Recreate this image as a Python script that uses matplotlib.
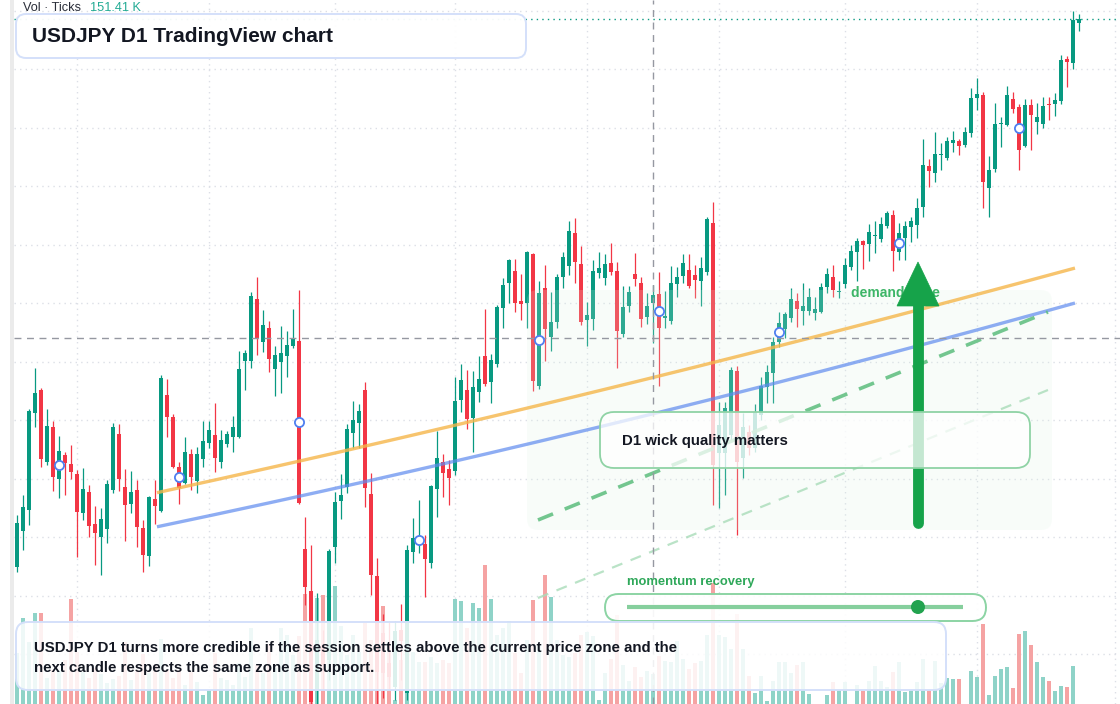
import numpy as np
import matplotlib
matplotlib.use("Agg")
import matplotlib.pyplot as plt
from matplotlib.patches import FancyBboxPatch, Polygon, Circle, Rectangle

plt.rcParams['font.family'] = ['Liberation Sans', 'DejaVu Sans']

# ---------------- data (USDJPY D1) ----------------
opens = [154.33,154.69,154.90,155.87,156.10,155.38,155.73,155.21,155.45,155.36,
         155.26,154.87,155.08,154.76,154.63,154.71,155.10,155.66,155.13,154.96,
         155.10,154.72,154.44,155.01,154.89,156.05,155.83,155.33,155.17,155.46,
         155.19,155.41,155.57,155.65,155.38,155.56,155.63,155.63,156.39,156.39,
         157.01,156.58,156.72,156.31,156.38,156.44,156.54,156.59,154.51,154.09,
         153.10,153.55,153.40,154.53,154.99,155.13,155.67,155.77,156.10,155.06,
         154.24,153.67,153.37,153.13,153.70,153.07,154.48,154.57,154.56,154.37,
         155.11,155.38,155.31,155.29,156.00,156.10,155.82,156.08,156.44,156.18,
         156.36,156.92,157.17,157.29,156.99,156.97,157.46,156.14,157.12,156.63,
         156.78,157.23,157.34,157.67,157.36,156.80,156.81,157.27,157.22,157.37,
         157.29,156.66,156.94,157.26,157.17,156.83,156.97,157.06,156.82,156.79,
         157.16,157.24,157.30,157.25,157.19,157.28,157.77,155.47,155.47,155.65,
         156.29,155.42,155.68,155.52,155.85,156.13,156.27,156.58,156.71,156.82,
         156.99,156.89,156.89,156.87,156.88,157.13,157.23,157.08,157.16,157.33,
         157.48,157.59,157.56,157.64,157.61,157.74,157.85,157.48,157.62,157.73,
         157.75,157.93,158.34,158.27,158.45,158.42,158.57,158.59,158.55,158.67,
         159.02,159.05,158.12,158.31,158.76,158.75,159.01,158.93,158.54,158.95,
         158.78,158.76,158.96,158.96,158.99,159.41,159.37,159.77]
highs = [154.85,155.05,155.91,156.32,156.12,155.91,155.79,155.64,155.48,155.55,
         155.30,155.32,155.15,154.94,154.92,155.20,155.77,155.76,155.31,155.29,
         155.20,154.80,155.04,155.20,156.25,156.21,155.86,155.38,155.63,155.51,
         155.53,155.79,155.79,155.97,155.70,155.69,155.84,156.49,156.50,157.08,
         157.23,156.90,156.79,156.54,156.74,156.69,156.91,157.10,154.83,154.55,
         154.07,153.70,154.51,155.08,155.26,155.76,155.99,155.96,156.18,155.27,
         154.42,153.86,153.79,153.79,153.96,154.55,154.82,155.00,154.65,155.15,
         155.69,155.46,155.40,156.23,156.36,156.30,156.29,156.44,156.91,156.46,
         156.95,157.22,157.41,157.41,157.26,157.49,157.47,157.19,157.35,157.08,
         157.26,157.48,157.79,157.82,157.54,156.98,157.40,157.48,157.46,157.57,
         157.38,157.14,157.14,157.47,157.23,157.07,157.15,157.28,157.09,157.34,
         157.33,157.46,157.46,157.35,157.43,157.83,157.98,155.98,155.98,156.33,
         156.34,155.87,155.75,155.96,156.23,156.35,156.63,156.88,156.88,157.12,
         157.07,157.17,157.12,157.03,157.17,157.32,157.35,157.19,157.42,157.55,
         157.62,157.60,157.76,157.79,157.83,157.89,157.90,157.77,157.79,157.83,
         158.02,158.61,158.41,158.68,158.57,158.63,158.69,158.61,158.73,159.12,
         159.22,159.08,158.44,158.97,158.83,159.14,159.08,158.96,159.01,159.01,
         158.97,159.03,159.03,159.07,159.45,159.44,159.89,159.86]
lows = [154.28,154.50,154.75,155.73,155.33,155.35,155.09,155.02,155.05,155.21,
        154.43,154.80,154.63,154.35,154.25,154.57,155.07,155.09,154.59,154.87,
        154.53,154.28,154.34,154.76,154.88,155.63,155.32,154.96,155.16,155.10,
        155.07,155.33,155.52,155.28,155.32,155.53,155.48,155.62,156.10,156.32,
        156.45,156.48,156.28,156.04,156.07,156.23,156.52,154.96,153.95,152.90,
        152.92,153.10,153.20,154.37,154.81,155.07,155.52,155.52,154.93,154.05,
        152.93,153.02,153.10,153.00,153.20,153.00,154.37,154.47,154.03,154.32,
        154.83,155.03,154.95,155.25,155.88,155.71,155.48,155.98,156.14,155.97,
        156.33,156.72,156.97,156.88,156.80,156.72,156.09,156.11,156.39,156.49,
        156.72,157.12,157.25,157.17,156.75,156.54,156.70,157.22,157.15,157.25,
        156.32,156.63,156.88,157.14,156.73,156.76,156.57,156.14,156.72,156.76,
        157.03,157.17,157.12,157.02,156.94,157.25,154.95,154.92,155.05,155.60,
        154.65,155.22,155.45,155.48,155.80,155.97,155.97,156.53,156.62,156.78,
        156.73,156.75,156.85,156.80,156.87,157.07,157.03,157.02,157.12,157.30,
        157.19,157.31,157.39,157.47,157.58,157.72,157.29,157.40,157.40,157.58,
        157.62,157.83,158.13,158.18,158.30,158.40,158.48,158.45,158.53,158.63,
        158.90,157.92,157.83,158.28,158.53,158.74,158.87,158.30,158.53,158.50,
        158.66,158.72,158.80,158.84,158.96,159.13,159.31,159.69]
closes = [154.77,154.93,155.89,156.07,155.41,155.74,155.23,155.49,155.37,155.28,
          154.88,155.11,154.74,154.67,154.81,155.16,155.73,155.21,154.95,155.08,
          154.73,154.45,155.03,154.94,156.22,155.83,155.33,155.12,155.48,155.23,
          155.46,155.59,155.70,155.42,155.60,155.66,155.73,156.31,156.47,157.04,
          156.62,156.75,156.41,156.45,156.47,156.55,156.62,154.97,154.13,152.98,
          153.60,153.35,154.49,154.98,155.05,155.71,155.80,155.89,155.12,154.25,
          153.28,153.27,153.23,153.69,153.59,154.50,154.62,154.62,154.41,155.14,
          155.42,155.27,155.22,155.99,156.20,155.81,156.13,156.21,156.16,156.40,
          156.93,157.15,157.40,156.97,156.96,157.48,156.19,157.07,156.71,156.78,
          157.23,157.43,157.69,157.38,156.78,156.85,157.29,157.32,157.36,157.28,
          156.69,156.93,157.08,157.21,156.81,156.94,157.05,156.72,156.84,157.17,
          157.23,157.37,157.14,157.20,157.32,157.81,155.35,155.75,155.92,156.30,
          155.38,155.73,155.52,155.88,156.14,156.28,156.58,156.77,156.86,157.01,
          156.91,156.94,157.03,156.91,157.13,157.26,157.10,157.09,157.35,157.49,
          157.59,157.55,157.68,157.65,157.76,157.87,157.49,157.67,157.74,157.79,
          157.92,158.35,158.29,158.46,158.46,158.59,158.60,158.54,158.68,159.02,
          159.06,158.18,158.30,158.76,158.77,159.05,158.91,158.50,158.95,158.85,
          158.83,158.94,158.95,159.00,159.40,159.38,159.80,159.81]
volumes_k = [204,344,248,364,364,104,136,136,176,420,
             208,128,104,144,120,84,100,112,248,96,
             136,200,124,156,260,136,104,136,76,128,
             88,36,56,204,104,96,76,164,108,304,
             156,124,240,144,304,276,196,272,440,416,
             424,436,416,472,312,196,276,208,324,256,
             336,392,216,16,176,148,208,168,168,188,
             164,176,164,420,412,304,404,384,556,420,
             276,304,332,204,124,256,416,236,516,428,
             256,196,188,204,276,288,272,16,124,180,
             356,156,92,148,108,132,120,192,172,168,
             252,180,140,164,172,276,484,276,268,220,
             360,220,112,44,112,12,92,168,168,124,
             156,168,40,0,0,36,88,56,88,0,
             76,52,92,152,92,68,128,168,48,56,
             88,180,60,172,84,104,100,100,0,132,
             108,320,36,112,140,148,64,280,292,236,
             168,108,92,52,72,68,151.41,0]

month_starts = [10, 32, 53, 73, 95, 117, 138, 160, 183]
price_grid = [159.89, 159.31, 158.72, 158.14, 157.55, 156.97,
              156.38, 155.80, 155.21, 154.63, 154.04, 153.46]
marker_idx = [7, 27, 47, 67, 87, 107, 127, 147, 167]

orange_x = [23.33, 59.67, 93.83, 176.33]
orange_y = [155.07, 155.57, 156.04, 157.32]
blue_x = [23.33, 58.83, 93.83, 176.33]
blue_y = [154.73, 155.20, 155.68, 156.97]
dash_x = [86.83, 171.83]
dash_strong_y = [154.80, 156.88]
dash_light_y = [154.02, 156.10]
zone_x = [85.0, 172.5]
zone_y = [154.70, 157.10]
cross_idx = 106
cross_price = 156.62
slider_value = 0.866

title = "USDJPY D1 TradingView chart"
note_lines = ["USDJPY D1 turns more credible if the session settles above the current price zone and the",
              "next candle respects the same zone as support."]
callout = "D1 wick quality matters"
zone_label = "demand zone"
slider_label = "momentum recovery"
vol_label = "Vol \u00b7 Ticks"
vol_value = "151.41 K"

# ---------------- figure ----------------
W, H = 1120, 704
fig = plt.figure(figsize=(W / 100, H / 100), dpi=100)
fig.patch.set_facecolor("white")

left_px = 14
ax = fig.add_axes([left_px / W, 0, 1 - left_px / W, 1])
ax.set_facecolor("white")
for s in ax.spines.values():
    s.set_visible(False)
ax.set_xticks([])
ax.set_yticks([])

x0 = -0.5
x1 = x0 + (W - left_px) / 6.0
y_lo, y_hi = 152.96, 160.0
ax.set_xlim(x0, x1)
ax.set_ylim(y_lo, y_hi)

UP, DN = "#089981", "#f23645"
VUP, VDN = "#8fd3c8", "#f5a3a3"
o = np.array(opens); h = np.array(highs); l = np.array(lows); c = np.array(closes)
v = np.array(volumes_k, dtype=float)
idx = np.arange(len(o))
up = c >= o

# grid
grid_kw = dict(color="#dcdfe6", lw=1.0, linestyle=(0, (1, 3)), zorder=0.5)
for gy in price_grid:
    ax.axhline(gy, **grid_kw)
for gx in month_starts:
    ax.axvline(gx, **grid_kw)

# volume pane (bottom of same panel), 1 px = 4 K ticks
VOL_SCALE = 0.01 / 4.0
ax.bar(idx, v * VOL_SCALE, bottom=y_lo, width=0.83,
       color=np.where(up, VUP, VDN), linewidth=0, zorder=1)

# last price line
ax.axhline(c[-1], color=UP, lw=1.0, linestyle=(0, (1, 3)), zorder=1.5)

# candles
ax.vlines(idx, l, h, colors=np.where(up, UP, DN), lw=0.9, zorder=2)
body_lo = np.minimum(o, c)
body_h = np.maximum(np.abs(c - o), 0.012)
ax.bar(idx, body_h, bottom=body_lo, width=0.8,
       color=np.where(up, UP, DN), linewidth=0, zorder=2.1)

# demand zone (rounded)
zone = FancyBboxPatch((zone_x[0], zone_y[0]), zone_x[1] - zone_x[0], zone_y[1] - zone_y[0],
                      boxstyle="round,pad=0,rounding_size=1.8", mutation_aspect=0.06,
                      facecolor="#dcf3e3", alpha=0.18, edgecolor="none", zorder=3)
ax.add_patch(zone)

# trend curves
def smooth(xs, ys):
    coef = np.polyfit(xs, ys, 2)
    xx = np.linspace(xs[0], xs[-1], 200)
    return xx, np.polyval(coef, xx)

xx, yy = smooth(orange_x, orange_y)
ax.plot(xx, yy, color="#f5b64a", alpha=0.8, lw=2.4, solid_capstyle="butt", zorder=4)
xx, yy = smooth(blue_x, blue_y)
ax.plot(xx, yy, color="#5f8bef", alpha=0.7, lw=2.4, solid_capstyle="butt", zorder=4)
ax.plot(dash_x, dash_strong_y, color="#5cbd7d", alpha=0.85, lw=2.6,
        linestyle=(0, (4.5, 3.5)), zorder=4)
ax.plot(dash_x, dash_light_y, color="#a9dcb9", alpha=0.8, lw=1.6,
        linestyle=(0, (5, 4)), zorder=4)

# crosshair
ax.axvline(cross_idx, color="#9598a1", lw=1.0, linestyle=(0, (5, 4)), zorder=4.5)
ax.axhline(cross_price, color="#9598a1", lw=1.0, linestyle=(0, (5, 4)), zorder=4.5)

# markers
mi = np.array(marker_idx)
ax.plot(mi, (o[mi] + c[mi]) / 2, linestyle="none", marker="o", ms=6.6,
        mfc="white", mec="#4f7ff0", mew=1.3, zorder=5)

# ---------------- overlay (pixel coordinates) ----------------
ov = fig.add_axes([0, 0, 1, 1])
ov.set_xlim(0, W)
ov.set_ylim(H, 0)
ov.axis("off")
ov.patch.set_alpha(0)

# left strip
ov.add_patch(Rectangle((10, 0), 4, H, facecolor="#ebebeb", edgecolor="none", zorder=1))

DARK = "#131722"
GREEN = "#16a34a"

# zone label and arrow
ov.text(851, 293, zone_label, fontsize=10, fontweight="bold", color="#3db567",
        va="center", ha="left", zorder=2)
ov.plot([918, 918], [523, 300], color=GREEN, lw=7.8, solid_capstyle="round", zorder=3)
ov.add_patch(Polygon([(897, 306), (939, 306), (918, 262)], closed=True,
                     facecolor=GREEN, edgecolor=GREEN, lw=0.5, zorder=3))

# callout box
ov.add_patch(FancyBboxPatch((600, 412), 430, 56, boxstyle="round,pad=0,rounding_size=14",
                            facecolor="white", alpha=0.75, edgecolor="none", zorder=4))
ov.add_patch(FancyBboxPatch((600, 412), 430, 56, boxstyle="round,pad=0,rounding_size=14",
                            facecolor="none", edgecolor="#8fd3a5", lw=1.3, zorder=4.1))
ov.text(622, 441, callout, fontsize=10.8, fontweight="bold", color=DARK,
        va="center", ha="left", zorder=5)

# slider
ov.text(627, 582, slider_label, fontsize=9.4, fontweight="bold", color="#2fa85a",
        va="center", ha="left", zorder=5)
ov.add_patch(FancyBboxPatch((605, 594), 381, 27, boxstyle="round,pad=0,rounding_size=13.5",
                            facecolor="white", alpha=0.92, edgecolor="none", zorder=4))
ov.add_patch(FancyBboxPatch((605, 594), 381, 27, boxstyle="round,pad=0,rounding_size=13.5",
                            facecolor="none", edgecolor="#8cd4a4", lw=1.4, zorder=4.1))
sx0, sx1 = 627, 963
ov.plot([sx0, sx1], [607, 607], color="#86cf9d", lw=3.0, solid_capstyle="butt", zorder=5)
ov.add_patch(Circle((sx0 + slider_value * (sx1 - sx0), 607), 7, facecolor="#22a34f",
                    edgecolor="none", zorder=6))

# bottom note box
ov.add_patch(FancyBboxPatch((16, 622), 930, 68, boxstyle="round,pad=0,rounding_size=12",
                            facecolor="white", alpha=0.86, edgecolor="none", zorder=4))
ov.add_patch(FancyBboxPatch((16, 622), 930, 68, boxstyle="round,pad=0,rounding_size=12",
                            facecolor="none", edgecolor="#d4e0fa", lw=1.4, zorder=4.1))
ov.text(34, 648, note_lines[0], fontsize=10.8, fontweight="bold", color=DARK,
        va="center", ha="left", zorder=5)
ov.text(34, 668, note_lines[1], fontsize=10.8, fontweight="bold", color=DARK,
        va="center", ha="left", zorder=5)

# title box
ov.add_patch(FancyBboxPatch((16, 14), 510, 44, boxstyle="round,pad=0,rounding_size=10",
                            facecolor="white", alpha=0.95, edgecolor="none", zorder=4))
ov.add_patch(FancyBboxPatch((16, 14), 510, 44, boxstyle="round,pad=0,rounding_size=10",
                            facecolor="none", edgecolor="#d4e0fa", lw=1.4, zorder=4.1))
ov.text(32, 36, title, fontsize=15, fontweight="bold", color=DARK,
        va="center", ha="left", zorder=5)

# volume legend
ov.text(23, 8, vol_label, fontsize=9.2, color="#2a2e39", va="center", ha="left", zorder=5)
ov.text(90, 8, vol_value, fontsize=9.2, color="#22ab94", va="center", ha="left", zorder=5)

fig.savefig("out.png", dpi=100, facecolor="white")
